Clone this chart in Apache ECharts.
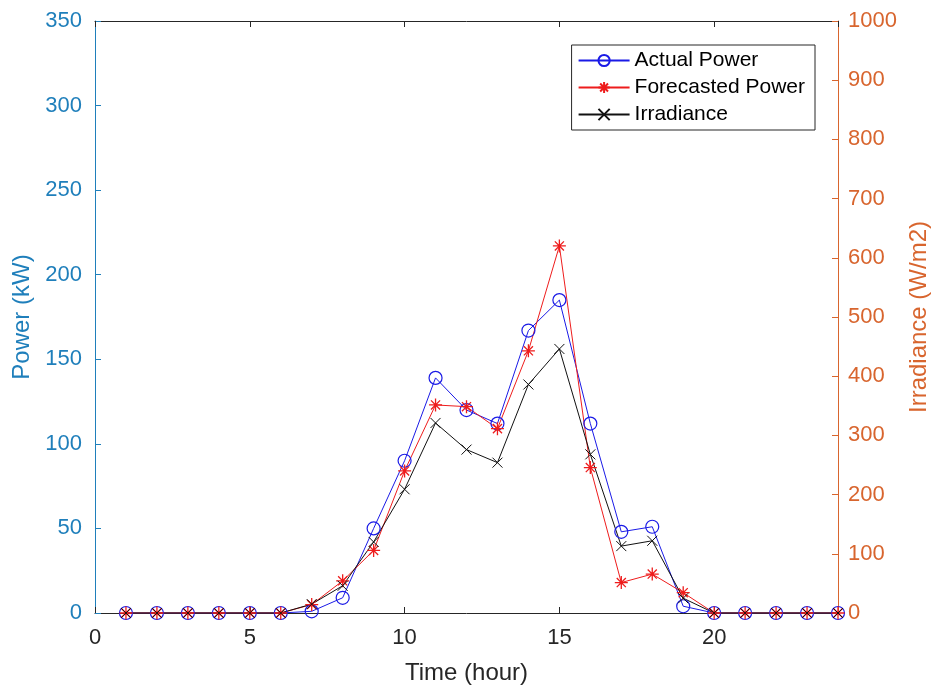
<!DOCTYPE html>
<html>
<head>
<meta charset="utf-8">
<script src="https://cdn.jsdelivr.net/npm/echarts@6/dist/echarts.min.js"></script>
<style>
  html, body { margin: 0; padding: 0; background: #fff; }
  #chart { width: 941px; height: 688px; }
</style>
</head>
<body>
<div id="chart"></div>
<script>
// Hourly PV output and irradiance over one day
const hours = [1, 2, 3, 4, 5, 6, 7, 8, 9, 10, 11, 12, 13, 14, 15, 16, 17, 18, 19, 20, 21, 22, 23, 24];
const actualPower = [0, 0, 0, 0, 0, 0, 1, 9, 50, 90, 139, 120, 112, 167, 185, 112, 48, 51, 4, 0, 0, 0, 0, 0];
const forecastPower = [0, 0, 0, 0, 0, 0, 5, 19, 37, 84, 123, 122, 109, 155, 217, 86, 18, 23, 12, 0, 0, 0, 0, 0];
const irradiance = [0, 0, 0, 0, 0, 0, 15, 46, 120, 209, 321, 276, 254, 386, 446, 268, 113, 122, 25, 0, 0, 0, 0, 0];

const leftColor = '#1f7fbb';
const rightColor = '#d8652e';
const axisGray = '#262626';
const font = 'Liberation Sans, Arial, sans-serif';

const pair = (ys) => hours.map((h, i) => [h, ys[i]]);

const starPath = 'path://M0,5 L10,5 M5,0 L5,10 M1.5,1.5 L8.5,8.5 M1.5,8.5 L8.5,1.5';
const crossPath = 'path://M0,0 L10,10 M0,10 L10,0';

const chart = echarts.init(document.getElementById('chart'), null, { renderer: 'canvas' });
chart.setOption({
  animation: false,
  backgroundColor: '#fff',
  textStyle: { fontFamily: font },
  grid: { left: 95, right: 103, top: 21, bottom: 75, containLabel: false, outerBoundsMode: 'none' },
  legend: {
    right: 126, top: 45,
    orient: 'vertical',
    backgroundColor: '#fff',
    borderColor: axisGray, borderWidth: 1,
    padding: [5, 10, 5, 6],
    itemGap: 6,
    itemWidth: 51, itemHeight: 14,
    textStyle: { fontFamily: font, fontSize: 21, lineHeight: 21, color: '#000' },
    data: ['Actual Power', 'Forecasted Power', 'Irradiance']
  },
  xAxis: [
    {
      type: 'value', min: 0, max: 24, interval: 5, position: 'bottom',
      name: 'Time (hour)', nameLocation: 'middle', nameGap: 48,
      nameTextStyle: { fontSize: 24, color: axisGray, fontFamily: font },
      axisLine: { onZero: false, lineStyle: { color: axisGray } },
      axisTick: { inside: true, length: 6, lineStyle: { color: axisGray } },
      axisLabel: { fontSize: 22, color: axisGray, margin: 14, showMaxLabel: false, fontFamily: font },
      splitLine: { show: false }
    },
    {
      // top frame edge with mirrored ticks
      type: 'value', min: 0, max: 24, interval: 5, position: 'top',
      axisLine: { show: true, onZero: false, lineStyle: { color: axisGray } },
      axisTick: { show: true, inside: true, length: 6, lineStyle: { color: axisGray } },
      axisLabel: { show: false },
      splitLine: { show: false }
    }
  ],
  yAxis: [
    {
      type: 'value', min: 0, max: 350, interval: 50, position: 'left',
      name: 'Power (kW)', nameLocation: 'middle', nameGap: 61, nameRotate: 90,
      nameTextStyle: { fontSize: 24, color: leftColor, fontFamily: font },
      axisLine: { show: true, onZero: false, lineStyle: { color: leftColor } },
      axisTick: { show: true, inside: true, length: 6, lineStyle: { color: leftColor } },
      axisLabel: { fontSize: 22, color: leftColor, margin: 13, fontFamily: font },
      splitLine: { show: false }
    },
    {
      type: 'value', min: 0, max: 1000, interval: 100, position: 'right',
      name: 'Irradiance (W/m2)', nameLocation: 'middle', nameGap: 68, nameRotate: 90,
      nameTextStyle: { fontSize: 24, color: rightColor, fontFamily: font },
      axisLine: { show: true, onZero: false, lineStyle: { color: rightColor } },
      axisTick: { show: true, inside: true, length: 6, lineStyle: { color: rightColor } },
      axisLabel: { fontSize: 22, color: rightColor, margin: 10, fontFamily: font, formatter: (v) => String(v) },
      splitLine: { show: false }
    }
  ],
  series: [
    {
      name: 'Actual Power', type: 'line', xAxisIndex: 0, yAxisIndex: 0,
      data: pair(actualPower),
      symbol: 'circle', symbolSize: 13, showAllSymbol: true,
      lineStyle: { color: '#1a1ae6', width: 1 },
      itemStyle: { color: 'rgba(0,0,0,0)', borderColor: '#1a1ae6', borderWidth: 1.2 }
    },
    {
      name: 'Forecasted Power', type: 'line', xAxisIndex: 0, yAxisIndex: 0,
      data: pair(forecastPower),
      symbol: starPath, symbolSize: 13, showAllSymbol: true,
      lineStyle: { color: '#ee1c1c', width: 1 },
      itemStyle: { color: 'rgba(0,0,0,0)', borderColor: '#ee1c1c', borderWidth: 1.3 }
    },
    {
      name: 'Irradiance', type: 'line', xAxisIndex: 0, yAxisIndex: 1,
      data: pair(irradiance),
      symbol: crossPath, symbolSize: 10, showAllSymbol: true,
      lineStyle: { color: '#111', width: 1 },
      itemStyle: { color: 'rgba(0,0,0,0)', borderColor: '#111', borderWidth: 1 }
    }
  ]
});
</script>
</body>
</html>
